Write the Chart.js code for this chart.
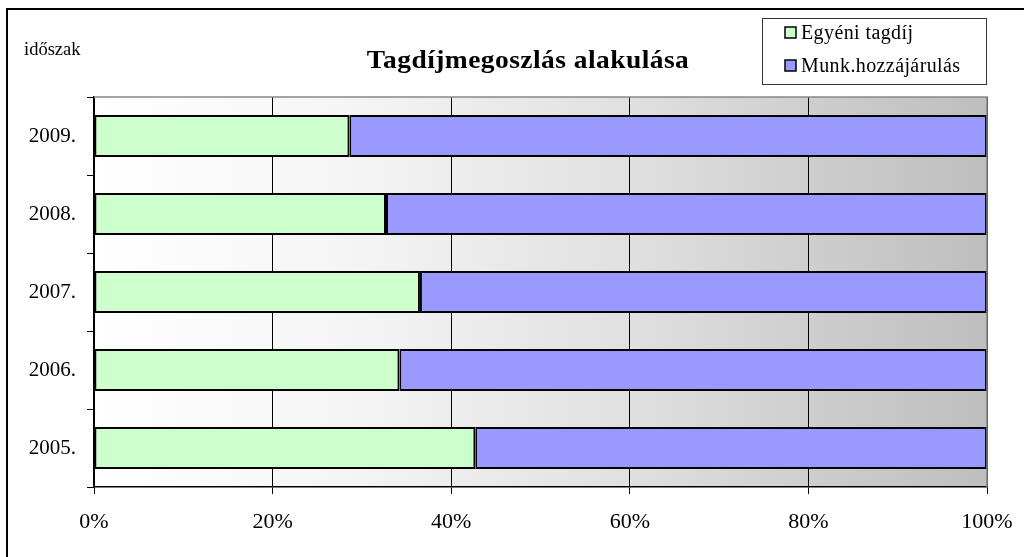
<!DOCTYPE html>
<html>
<head>
<meta charset="utf-8">
<script src="https://cdn.jsdelivr.net/npm/chart.js@4/dist/chart.umd.min.js"></script>
<style>
  html, body { margin: 0; padding: 0; background: #fff; }
  #wrap { width: 1024px; height: 557px; }
</style>
</head>
<body>
<div id="wrap"><canvas id="grafTagdij" width="1024" height="557"></canvas></div>
<script>
//-> adatok
const idoszak = ['2009.', '2008.', '2007.', '2006.', '2005.'];
const egyeniTagdij = [28.6, 32.7, 36.5, 34.2, 42.7];
const munkHozzajarulas = [71.4, 67.3, 63.5, 65.8, 57.3];
const xTicks = [0, 20, 40, 60, 80, 100];

const serif = 'Liberation Serif';

//-> háttér, keret, feliratok
const hatter = {
   id: 'hatter',
   beforeDraw(chart) {
      const c = chart.ctx, a = chart.chartArea;
      c.save();
      c.fillStyle = '#fff';
      c.fillRect(0, 0, chart.width, chart.height);
      const g = c.createLinearGradient(a.left, 0, a.right, 0);
      g.addColorStop(0, '#ffffff');
      g.addColorStop(0.3, '#f4f4f4');
      g.addColorStop(0.6, '#e0e0e0');
      g.addColorStop(0.85, '#cacaca');
      g.addColorStop(1, '#bebebe');
      c.fillStyle = g;
      c.fillRect(a.left, a.top, a.right - a.left, a.bottom - a.top);
      c.restore();
   },
   afterDraw(chart) {
      const c = chart.ctx, a = chart.chartArea;
      c.save();
      // plot keret fent / jobbra
      c.strokeStyle = '#888';
      c.lineWidth = 1.5;
      c.beginPath();
      c.moveTo(a.left, a.top);
      c.lineTo(a.right, a.top);
      c.lineTo(a.right, a.bottom);
      c.stroke();
      // külső keret
      c.strokeStyle = '#000';
      c.lineWidth = 2;
      c.strokeRect(7, 9, 1100, 1000);
      // cím (kissé szélesítve)
      c.fillStyle = '#000';
      c.textAlign = 'center';
      c.textBaseline = 'middle';
      c.font = 'bold 25px "' + serif + '"';
      c.save();
      c.translate(528, 62);
      c.scale(1.1, 1);
      c.letterSpacing = '0.4px';
      c.fillText('Tagdíjmegoszlás alakulása', 0, 0);
      c.restore();
      // időszak
      c.letterSpacing = '0px';
      c.textAlign = 'left';
      c.font = '18.5px "' + serif + '"';
      c.fillText('időszak', 24, 50);
      // jelmagyarázat
      c.fillStyle = '#fff';
      c.fillRect(762, 18, 224, 66);
      c.strokeStyle = '#333';
      c.lineWidth = 1;
      c.strokeRect(762.5, 18.5, 224, 66);
      c.font = '20px "' + serif + '"';
      c.letterSpacing = '0.4px';
      const sorok = [33, 66];
      chart.data.datasets.forEach((ds, i) => {
         const y = sorok[i];
         c.fillStyle = ds.backgroundColor;
         c.fillRect(785, y - 6, 11, 11);
         c.strokeStyle = '#000';
         c.lineWidth = 1.5;
         c.strokeRect(785, y - 6, 11, 11);
         c.fillStyle = '#000';
         c.fillText(ds.label, 801, y + 1);
      });
      c.restore();
   }
};

const grafTagdij = document.getElementById('grafTagdij').getContext('2d');
new Chart(grafTagdij, {
   type: 'bar',
   data: {
      labels: idoszak,
      datasets: [{
         label: 'Egyéni tagdíj',
         data: egyeniTagdij,
         backgroundColor: '#ccffcc',
         borderColor: '#000',
         borderWidth: 2,
         borderSkipped: false
      }, {
         label: 'Munk.hozzájárulás',
         data: munkHozzajarulas,
         backgroundColor: '#9999ff',
         borderColor: '#000',
         borderWidth: 2,
         borderSkipped: false
      }]
   },
   options: {
      indexAxis: 'y',
      responsive: false,
      animation: false,
      layout: { padding: { top: 97, right: 37, left: 0, bottom: 0 } },
      datasets: { bar: { barPercentage: 0.54, categoryPercentage: 1 } },
      plugins: { legend: { display: false }, tooltip: { enabled: false } },
      scales: {
         x: {
            stacked: true,
            min: 0, max: 100,
            afterFit(s) { s.height = 70; s.paddingLeft = 0; s.paddingRight = 0; },
            afterBuildTicks(s) { s.ticks = xTicks.map(v => ({ value: v })); },
            grid: { color: '#000', lineWidth: 1, tickLength: 7 },
            border: { display: true, color: '#000', width: 1.5 },
            ticks: {
               padding: 15,
               color: '#000',
               font: { family: serif, size: 22 },
               callback: v => v + '%'
            }
         },
         y: {
            stacked: true,
            afterFit(s) { s.width = 94; },
            grid: { drawOnChartArea: false, color: '#000', tickLength: 7, offset: true },
            border: { display: true, color: '#000', width: 1.5 },
            ticks: {
               padding: 11,
               color: '#000',
               font: { family: serif, size: 21 }
            }
         }
      }
   },
   plugins: [hatter]
});
</script>
</body>
</html>
